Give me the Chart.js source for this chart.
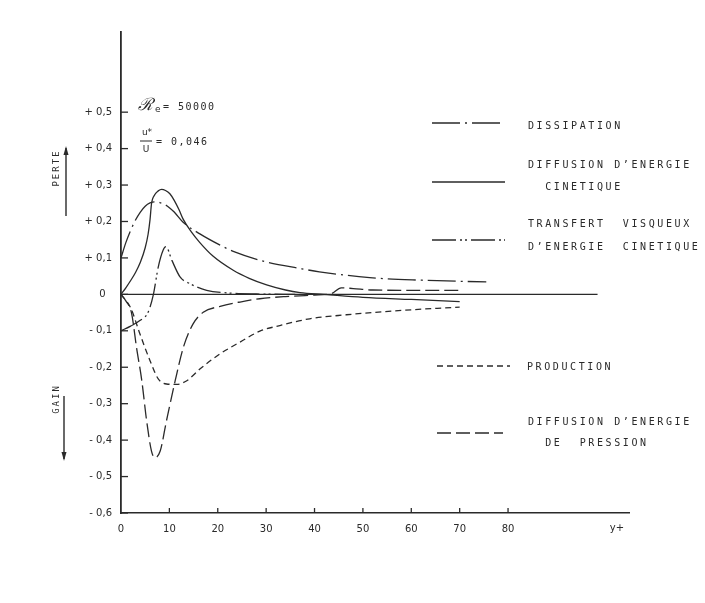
<!DOCTYPE html>
<html>
<head>
<meta charset="utf-8">
<script src="https://cdn.jsdelivr.net/npm/chart.js@4.4.0/dist/chart.umd.min.js"></script>
<style>
  html, body { margin: 0; padding: 0; background: #ffffff; }
  #wrap { width: 705px; height: 603px; }
</style>
</head>
<body>
<div id="wrap"><canvas id="c" width="705" height="603"></canvas></div>
<script>
// Energy balance terms versus wall distance y+ (Re = 50000, u*/U = 0.046)

const seriesNames = ['DISSIPATION', 'DIFFUSION D’ENERGIE CINETIQUE', 'TRANSFERT VISQUEUX D’ENERGIE CINETIQUE', 'PRODUCTION', 'DIFFUSION D’ENERGIE DE PRESSION'];

const dissipationX = [0, 1, 2, 3, 4, 5, 6, 7, 8, 9, 10, 11, 12.9, 16.3, 20.5, 23.2, 30, 37, 41, 51.4, 61.8, 75.5];
const dissipationY = [0.10, 0.142, 0.176, 0.204, 0.226, 0.242, 0.251, 0.254, 0.252, 0.247, 0.238, 0.226, 0.197, 0.166, 0.135, 0.118, 0.089, 0.071, 0.062, 0.046, 0.039, 0.034];

const kineticX = [0, 1, 2, 3, 4, 5, 5.6, 6, 6.3, 7, 7.7, 8.4, 9.2, 10.1, 11, 12, 12.9, 14.5, 16.3, 19, 23.2, 26.5, 30.1, 34, 37, 42, 50, 60, 70];
const kineticY = [0, 0.018, 0.038, 0.06, 0.088, 0.128, 0.165, 0.205, 0.248, 0.274, 0.284, 0.288, 0.285, 0.276, 0.258, 0.232, 0.205, 0.172, 0.142, 0.105, 0.066, 0.044, 0.026, 0.012, 0.005, 0, -0.008, -0.014, -0.02];

const viscousX = [0, 2, 3.9, 5.6, 6.7, 7.7, 8.7, 9.3, 10.5, 12.2, 14.3, 17.7, 22, 28, 36];
const viscousY = [-0.10, -0.087, -0.072, -0.049, 0, 0.075, 0.121, 0.131, 0.094, 0.048, 0.029, 0.011, 0.004, 0.001, 0];

const productionX = [0, 2, 3.9, 6, 7.7, 9.4, 11.5, 13.6, 16.3, 20.5, 24.6, 28.7, 33, 39, 46.6, 58, 70];
const productionY = [0, -0.037, -0.108, -0.182, -0.232, -0.246, -0.247, -0.237, -0.205, -0.163, -0.131, -0.101, -0.085, -0.067, -0.056, -0.044, -0.035];

const pressureX = [0, 1, 2.2, 3.2, 4.3, 5.3, 6.3, 7, 8.1, 9.4, 11.2, 12.9, 14.9, 17, 20.5, 24.6, 28.7, 34, 40, 43.5, 45.5, 48, 52, 60, 70.5];
const pressureY = [0, -0.018, -0.053, -0.145, -0.237, -0.347, -0.43, -0.448, -0.43, -0.347, -0.237, -0.145, -0.081, -0.049, -0.033, -0.021, -0.012, -0.006, -0.002, 0.002, 0.018, 0.016, 0.012, 0.011, 0.011];

const zeroX = [0, 98.5];
const zeroY = [0, 0];

const xTickValues = [0, 10, 20, 30, 40, 50, 60, 70, 80];
const xTickLabels = ['0', '10', '20', '30', '40', '50', '60', '70', '80'];
const yTickValues = [0.5, 0.4, 0.3, 0.2, 0.1, 0, -0.1, -0.2, -0.3, -0.4, -0.5, -0.6];
const yTickLabels = ['+ 0,5', '+ 0,4', '+ 0,3', '+ 0,2', '+ 0,1', '0  ', '- 0,1', '- 0,2', '- 0,3', '- 0,4', '- 0,5', '- 0,6'];

const legendText = [
  ['DISSIPATION'],
  ['DIFFUSION D’ENERGIE', '  CINETIQUE'],
  ['TRANSFERT  VISQUEUX', 'D’ENERGIE  CINETIQUE'],
  ['PRODUCTION'],
  ['DIFFUSION D’ENERGIE', '  DE  PRESSION']
];

const INK = '#2a2a2a';

function pts(xs, ys) { return xs.map((v, i) => ({ x: v, y: ys[i] })); }

function curve(label, xs, ys, dash) {
  return {
    label: label,
    data: pts(xs, ys),
    borderColor: INK,
    borderWidth: 1.3,
    borderDash: dash,
    pointRadius: 0,
    fill: false,
    cubicInterpolationMode: 'monotone'
  };
}

const datasets = [
  curve(seriesNames[0], dissipationX, dissipationY, [28, 5, 2, 5]),
  curve(seriesNames[1], kineticX, kineticY, []),
  curve(seriesNames[2], viscousX, viscousY, [24, 4, 2, 3, 2, 4]),
  curve(seriesNames[3], productionX, productionY, [6, 4]),
  curve(seriesNames[4], pressureX, pressureY, [14, 5]),
  { label: 'zero', data: pts(zeroX, zeroY), borderColor: INK, borderWidth: 1.2, pointRadius: 0, fill: false }
];

// Legend rows: sample segment and text positions
const legendLayout = [
  { sx: [432, 502], sy: 123, lines: [[528, 126]] },
  { sx: [432, 505], sy: 182, lines: [[528, 165], [528, 187]] },
  { sx: [432, 505], sy: 240, lines: [[528, 224], [528, 247]] },
  { sx: [437, 510], sy: 366, lines: [[527, 367]] },
  { sx: [437, 503], sy: 433, lines: [[528, 422], [528, 443]] }
];

function seg(ctx, x0, y0, x1, y1) {
  ctx.beginPath(); ctx.moveTo(x0, y0); ctx.lineTo(x1, y1); ctx.stroke();
}

function arrow(ctx, x, yTail, yHead) {
  ctx.setLineDash([]);
  ctx.lineWidth = 1.4;
  seg(ctx, x, yTail, x, yHead);
  const dir = yHead < yTail ? -1 : 1;
  ctx.beginPath();
  ctx.moveTo(x, yHead + dir * 2);
  ctx.lineTo(x - 2.5, yHead - dir * 7);
  ctx.lineTo(x + 2.5, yHead - dir * 7);
  ctx.closePath();
  ctx.fill();
}

const decor = {
  id: 'decor',
  afterDraw(chart) {
    const ctx = chart.ctx;
    const xs = chart.scales.x, ys = chart.scales.y;
    ctx.save();
    ctx.strokeStyle = INK;
    ctx.fillStyle = INK;
    ctx.lineWidth = 1.3;
    ctx.setLineDash([]);

    // inward tick marks
    yTickValues.forEach(v => {
      const py = ys.getPixelForValue(v);
      seg(ctx, xs.left, py, xs.left + 7, py);
    });
    xTickValues.forEach(v => {
      if (v === 0) return;
      const px = xs.getPixelForValue(v);
      seg(ctx, px, ys.bottom, px, ys.bottom - 5);
    });

    // y+ axis name
    ctx.font = '10px "DejaVu Sans"';
    ctx.textAlign = 'center';
    ctx.textBaseline = 'middle';
    ctx.fillText('y+', xs.getPixelForValue(102.5), 528);

    // legend
    chart.data.datasets.slice(0, 5).forEach((ds, i) => {
      const L = legendLayout[i];
      ctx.setLineDash(ds.borderDash || []);
      ctx.lineWidth = 1.3;
      seg(ctx, L.sx[0], L.sy, L.sx[1], L.sy);
      ctx.setLineDash([]);
      ctx.font = '10px "DejaVu Sans Mono"';
      ctx.letterSpacing = '2.6px';
      ctx.textAlign = 'left';
      legendText[i].forEach((t, j) => {
        ctx.fillText(t, L.lines[j][0], L.lines[j][1]);
      });
      ctx.letterSpacing = '0px';
    });

    // parameters
    ctx.textAlign = 'left';
    ctx.font = 'italic 17px "DejaVu Serif"';
    ctx.fillText('ℛ', 138, 106);
    ctx.font = '9px "DejaVu Sans"';
    ctx.fillText('e', 155, 110);
    ctx.font = '10px "DejaVu Sans Mono"';
    ctx.letterSpacing = '1.5px';
    ctx.fillText('= 50000', 163, 107);
    ctx.fillText('= 0,046', 156, 142);
    ctx.letterSpacing = '0px';
    ctx.textAlign = 'center';
    ctx.font = '9px "DejaVu Sans"';
    ctx.fillText('u*', 147, 133);
    ctx.fillText('U', 146, 150);
    ctx.lineWidth = 1;
    seg(ctx, 140, 141, 152, 141);

    // loss / gain side labels
    ctx.font = '9px "DejaVu Sans Mono"';
    ctx.letterSpacing = '2px';
    ctx.save();
    ctx.translate(57, 168);
    ctx.rotate(-Math.PI / 2);
    ctx.textAlign = 'center';
    ctx.fillText('PERTE', 0, 0);
    ctx.restore();
    ctx.save();
    ctx.translate(57, 399);
    ctx.rotate(-Math.PI / 2);
    ctx.textAlign = 'center';
    ctx.fillText('GAIN', 0, 0);
    ctx.restore();
    ctx.letterSpacing = '0px';
    arrow(ctx, 66, 216, 148);
    arrow(ctx, 64, 396, 459);

    ctx.restore();
  }
};

Chart.defaults.font.family = '"DejaVu Sans"';
Chart.defaults.color = INK;

new Chart(document.getElementById('c'), {
  type: 'line',
  data: { datasets: datasets },
  options: {
    responsive: false,
    animation: false,
    layout: { padding: { top: 32, right: 76, left: 0, bottom: 0 } },
    plugins: { legend: { display: false }, tooltip: { enabled: false } },
    scales: {
      x: {
        type: 'linear',
        min: 0,
        max: 105,
        afterFit(s) { s.height = 90; },
        afterBuildTicks(s) { s.ticks = xTickValues.map(v => ({ value: v })); },
        grid: { display: true, drawOnChartArea: false, drawTicks: false },
        border: { display: true, color: INK, width: 1.6 },
        ticks: {
          padding: 10,
          maxRotation: 0,
          autoSkip: false,
          font: { size: 10 },
          color: INK,
          callback: (v) => xTickLabels[xTickValues.indexOf(v)]
        }
      },
      y: {
        type: 'linear',
        min: -0.6,
        max: 0.72,
        afterFit(s) { s.width = 121; },
        afterBuildTicks(s) { s.ticks = yTickValues.map(v => ({ value: v })); },
        grid: { display: true, drawOnChartArea: false, drawTicks: false },
        border: { display: true, color: INK, width: 1.8 },
        ticks: {
          padding: 9,
          autoSkip: false,
          font: { size: 10 },
          color: INK,
          callback: (v) => {
            const i = yTickValues.findIndex(t => Math.abs(t - v) < 1e-9);
            return i >= 0 ? yTickLabels[i] : '';
          }
        }
      }
    }
  },
  plugins: [decor]
});
</script>
</body>
</html>
